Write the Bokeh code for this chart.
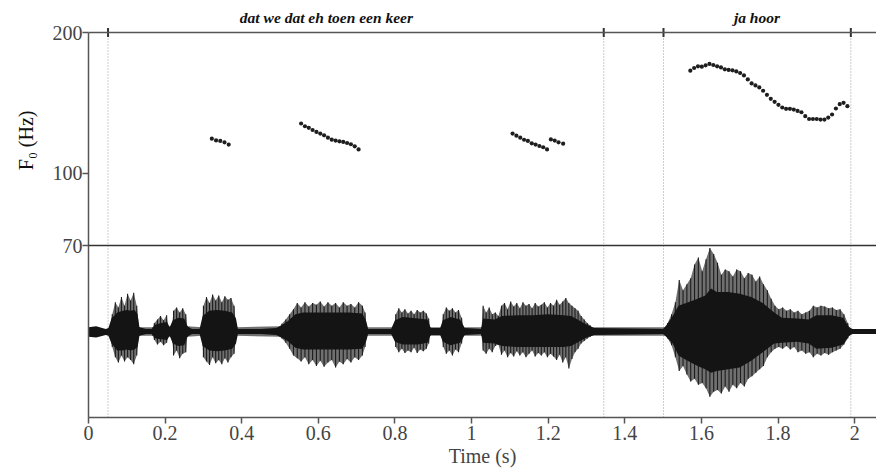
import math
from bokeh.plotting import figure
from bokeh.models import (Range1d, FixedTicker, CustomJSTickFormatter, LinearScale,
                          Span, Title)
from bokeh.core.properties import value
from bokeh.embed import file_html
from bokeh.resources import INLINE

# ---------------- data ----------------
# F0 (pitch) track, seconds / Hz
pitch_t = [0.322, 0.333, 0.344, 0.355, 0.366,
           0.555, 0.565, 0.575, 0.585, 0.595, 0.605, 0.615, 0.625, 0.635, 0.645,
           0.655, 0.665, 0.675, 0.685, 0.695, 0.705,
           1.107, 1.117, 1.127, 1.137, 1.147, 1.157, 1.167, 1.177, 1.187, 1.197,
           1.207, 1.217, 1.227, 1.239,
           1.571, 1.581, 1.591, 1.601, 1.611, 1.621, 1.631, 1.641, 1.651, 1.661,
           1.671, 1.681, 1.691, 1.701, 1.711, 1.721, 1.731, 1.741, 1.751, 1.761,
           1.771, 1.781, 1.791, 1.801, 1.811, 1.821, 1.831, 1.841, 1.851, 1.861,
           1.871, 1.881, 1.891, 1.901, 1.911, 1.921, 1.931, 1.941, 1.951, 1.961,
           1.971, 1.981]
pitch_hz = [118.5, 117.5, 117.2, 116.4, 115.1,
            127.7, 126.0, 125.0, 123.7, 122.5, 121.5, 120.5, 119.1, 117.9, 117.4,
            117.0, 116.6, 116.0, 115.3, 114.1, 112.4,
            121.5, 120.3, 119.1, 117.9, 117.2, 115.8, 115.1, 114.3, 113.6, 112.4,
            118.1, 117.4, 116.4, 115.6,
            165.7, 167.9, 169.3, 169.0, 170.1, 171.3, 170.4, 169.3, 168.4, 166.8,
            166.3, 166.0, 165.1, 163.8, 161.9, 158.7, 155.6, 154.1, 152.6, 150.1,
            147.1, 144.2, 142.1, 140.0, 138.2, 137.3, 137.3, 136.8, 135.9, 135.0,
            132.4, 130.6, 130.6, 130.6, 130.2, 130.2, 131.5, 133.5, 137.5, 140.5,
            141.4, 139.1]

# waveform: dense core envelope (relative amplitude)
wave_t = [0.000, 0.020, 0.045, 0.052, 0.060, 0.075, 0.090, 0.100, 0.110, 0.120,
          0.128, 0.133, 0.150, 0.165, 0.175, 0.190, 0.205, 0.212, 0.220, 0.235,
          0.250, 0.258, 0.270, 0.290, 0.298, 0.315, 0.335, 0.355, 0.375, 0.385,
          0.390, 0.450, 0.490, 0.500, 0.520, 0.540, 0.560, 0.600, 0.640, 0.680,
          0.715, 0.725, 0.730, 0.790, 0.800, 0.820, 0.860, 0.885, 0.893, 0.918,
          0.925, 0.945, 0.970, 0.982, 1.025, 1.030, 1.060, 1.080, 1.120, 1.160,
          1.200, 1.240, 1.260, 1.280, 1.300, 1.320, 1.500, 1.510, 1.525, 1.540,
          1.560, 1.590, 1.610, 1.625, 1.640, 1.670, 1.700, 1.730, 1.760, 1.790,
          1.810, 1.850, 1.880, 1.900, 1.940, 1.970, 1.985, 1.995, 2.090]
wave_core_hi = [0.05, 0.06, 0.03, 0.04, 0.15, 0.22, 0.24, 0.25, 0.24, 0.25,
                0.20, 0.05, 0.03, 0.03, 0.08, 0.10, 0.11, 0.05, 0.13, 0.16,
                0.15, 0.06, 0.03, 0.03, 0.18, 0.24, 0.25, 0.24, 0.22, 0.15,
                0.03, 0.03, 0.04, 0.06, 0.12, 0.20, 0.22, 0.22, 0.22, 0.22,
                0.21, 0.12, 0.03, 0.03, 0.13, 0.17, 0.15, 0.14, 0.04, 0.04,
                0.13, 0.17, 0.14, 0.04, 0.03, 0.15, 0.14, 0.18, 0.19, 0.19,
                0.20, 0.19, 0.18, 0.13, 0.08, 0.04, 0.03, 0.08, 0.18, 0.30,
                0.33, 0.38, 0.42, 0.50, 0.46, 0.46, 0.44, 0.40, 0.33, 0.22,
                0.16, 0.15, 0.14, 0.19, 0.19, 0.16, 0.05, 0.03, 0.03]
wave_core_lo = [-0.06, -0.07, -0.04, -0.05, -0.14, -0.22, -0.22, -0.21, -0.22, -0.21,
                -0.18, -0.05, -0.03, -0.03, -0.08, -0.09, -0.10, -0.05, -0.14, -0.17,
                -0.16, -0.06, -0.03, -0.03, -0.17, -0.22, -0.23, -0.22, -0.20, -0.14,
                -0.03, -0.03, -0.04, -0.06, -0.11, -0.19, -0.21, -0.21, -0.21, -0.21,
                -0.20, -0.11, -0.03, -0.03, -0.12, -0.15, -0.15, -0.13, -0.04, -0.04,
                -0.12, -0.16, -0.13, -0.04, -0.03, -0.13, -0.14, -0.17, -0.18, -0.18,
                -0.18, -0.18, -0.17, -0.12, -0.07, -0.04, -0.03, -0.07, -0.14, -0.28,
                -0.33, -0.40, -0.44, -0.48, -0.46, -0.44, -0.42, -0.34, -0.24, -0.14,
                -0.13, -0.12, -0.14, -0.20, -0.19, -0.15, -0.05, -0.03, -0.03]

# waveform: individual peak excursions (spikes), with near-silent points between bursts
spike_t = [0.056, 0.062, 0.070, 0.078, 0.086, 0.094, 0.102, 0.110, 0.118, 0.126, 0.132,
           0.168, 0.172, 0.180, 0.188, 0.196, 0.204, 0.208,
           0.218, 0.222, 0.230, 0.238, 0.246, 0.254, 0.258,
           0.296, 0.300, 0.308, 0.316, 0.324, 0.332, 0.340, 0.348, 0.356, 0.364,
           0.372, 0.380, 0.386,
           0.500, 0.505, 0.515, 0.525, 0.535, 0.545, 0.555, 0.565, 0.575, 0.585,
           0.595, 0.605, 0.615, 0.625, 0.635, 0.645, 0.655, 0.665, 0.675, 0.685,
           0.695, 0.705, 0.715, 0.722, 0.726,
           0.798, 0.802, 0.810, 0.818, 0.826, 0.834, 0.842, 0.850, 0.858, 0.866,
           0.874, 0.882, 0.888, 0.892,
           0.922, 0.926, 0.934, 0.942, 0.950, 0.958, 0.966, 0.974, 0.979,
           1.026, 1.030, 1.038, 1.046, 1.054, 1.062, 1.070, 1.078, 1.086, 1.094,
           1.102, 1.110, 1.118, 1.126, 1.134, 1.142, 1.150, 1.158, 1.166, 1.174,
           1.182, 1.190, 1.198, 1.206, 1.214, 1.222, 1.230, 1.238, 1.246, 1.254,
           1.262, 1.270, 1.278, 1.286, 1.294, 1.302, 1.310, 1.314,
           1.508, 1.512, 1.522, 1.532, 1.542, 1.552, 1.562, 1.572, 1.582, 1.592,
           1.602, 1.612, 1.622, 1.632, 1.642, 1.652, 1.662, 1.672, 1.682, 1.692,
           1.702, 1.712, 1.722, 1.732, 1.742, 1.752, 1.762, 1.772, 1.782, 1.792,
           1.802, 1.812, 1.822, 1.832, 1.842, 1.852, 1.862, 1.872, 1.882, 1.892,
           1.902, 1.912, 1.922, 1.932, 1.942, 1.952, 1.962, 1.972, 1.982, 1.986]
spike_hi = [0.05, 0.20, 0.34, 0.28, 0.40, 0.30, 0.44, 0.36, 0.45, 0.30, 0.05,
            0.05, 0.10, 0.14, 0.18, 0.13, 0.19, 0.06,
            0.06, 0.24, 0.28, 0.22, 0.27, 0.20, 0.06,
            0.05, 0.30, 0.40, 0.33, 0.43, 0.36, 0.42, 0.34, 0.41, 0.37,
            0.39, 0.30, 0.05,
            0.06, 0.09, 0.14, 0.20, 0.26, 0.33, 0.28, 0.34, 0.29, 0.33,
            0.31, 0.35, 0.29, 0.34, 0.30, 0.33, 0.28, 0.34, 0.30, 0.32,
            0.28, 0.34, 0.30, 0.22, 0.05,
            0.05, 0.20, 0.27, 0.22, 0.26, 0.21, 0.24, 0.20, 0.25, 0.22,
            0.24, 0.21, 0.15, 0.05,
            0.05, 0.20, 0.28, 0.24, 0.27, 0.22, 0.25, 0.16, 0.05,
            0.05, 0.30, 0.22, 0.28, 0.20, 0.22, 0.18, 0.30, 0.33, 0.26,
            0.35, 0.29, 0.33, 0.27, 0.34, 0.30, 0.32, 0.27, 0.33, 0.29,
            0.31, 0.34, 0.28, 0.33, 0.30, 0.37, 0.31, 0.35, 0.39, 0.33,
            0.30, 0.27, 0.24, 0.18, 0.14, 0.10, 0.07, 0.05,
            0.05, 0.10, 0.20, 0.34, 0.60, 0.48, 0.55, 0.62, 0.78, 0.86,
            0.70, 0.84, 0.97, 0.90, 0.80, 0.66, 0.72, 0.70, 0.64, 0.72,
            0.70, 0.62, 0.68, 0.66, 0.58, 0.64, 0.55, 0.48, 0.38, 0.30,
            0.26, 0.28, 0.24, 0.26, 0.22, 0.24, 0.20, 0.22, 0.24, 0.30,
            0.28, 0.30, 0.29, 0.27, 0.28, 0.25, 0.26, 0.20, 0.10, 0.05]
spike_lo = [-0.06, -0.18, -0.30, -0.36, -0.28, -0.35, -0.30, -0.33, -0.38, -0.28, -0.05,
            -0.05, -0.10, -0.15, -0.12, -0.16, -0.13, -0.06,
            -0.06, -0.28, -0.22, -0.31, -0.26, -0.24, -0.06,
            -0.05, -0.30, -0.35, -0.39, -0.30, -0.37, -0.33, -0.38, -0.31, -0.36,
            -0.30, -0.26, -0.05,
            -0.06, -0.08, -0.13, -0.20, -0.28, -0.31, -0.35, -0.30, -0.38, -0.33,
            -0.40, -0.34, -0.41, -0.36, -0.33, -0.42, -0.35, -0.38, -0.32, -0.36,
            -0.30, -0.33, -0.28, -0.18, -0.05,
            -0.05, -0.18, -0.24, -0.20, -0.25, -0.22, -0.24, -0.19, -0.25, -0.21,
            -0.23, -0.20, -0.14, -0.05,
            -0.05, -0.18, -0.26, -0.22, -0.28, -0.21, -0.24, -0.14, -0.05,
            -0.05, -0.22, -0.26, -0.20, -0.24, -0.17, -0.15, -0.27, -0.22, -0.30,
            -0.25, -0.29, -0.23, -0.28, -0.24, -0.30, -0.26, -0.22, -0.29, -0.25,
            -0.28, -0.24, -0.30, -0.26, -0.29, -0.33, -0.27, -0.36, -0.30, -0.43,
            -0.32, -0.24, -0.20, -0.14, -0.11, -0.08, -0.06, -0.05,
            -0.05, -0.08, -0.16, -0.30, -0.46, -0.40, -0.50, -0.58, -0.55, -0.62,
            -0.60, -0.66, -0.76, -0.70, -0.68, -0.72, -0.64, -0.70, -0.62, -0.66,
            -0.60, -0.64, -0.55, -0.52, -0.48, -0.44, -0.40, -0.30, -0.24, -0.20,
            -0.18, -0.20, -0.17, -0.21, -0.18, -0.24, -0.22, -0.26, -0.24, -0.30,
            -0.26, -0.28, -0.25, -0.27, -0.24, -0.22, -0.20, -0.15, -0.08, -0.05]

boundaries = [0.051, 1.345, 1.501, 1.99]
phrases = ["dat we dat eh toen een keer", "ja hoor"]
phrase_x = [0.621, 1.745]

time_ticks = [0, 0.2, 0.4, 0.6, 0.8, 1, 1.2, 1.4, 1.6, 1.8, 2]
f0_ticks = [70, 100, 200]
F0_MIN, F0_MAX = 70, 200

# ---------------- layout / styling ----------------
FONT = "Liberation Serif"
AX = "#555555"
TOP_PX, PITCH_PX, WAVE_PX = 32, 213, 172     # title zone, pitch panel, waveform panel
px_per_ln = PITCH_PX / math.log(F0_MAX / F0_MIN)
y_lo = F0_MIN * math.exp(-WAVE_PX / px_per_ln)       # log value at frame bottom
y_hi = F0_MAX * math.exp(TOP_PX / px_per_ln)         # log value at frame top
title_y = F0_MAX * math.exp(15 / px_per_ln)
wave_top = 1 + 2 * (PITCH_PX + TOP_PX) / WAVE_PX

p = figure(width=876, height=TOP_PX + PITCH_PX + WAVE_PX + 52,
           x_range=Range1d(0, 2.057), y_range=Range1d(y_lo, y_hi),
           y_axis_type="log", output_backend="svg", toolbar_location=None,
           min_border_left=84, min_border_right=0, min_border_top=0,
           min_border_bottom=52)
p.extra_y_ranges = {"wave": Range1d(-1, wave_top)}
p.extra_y_scales = {"wave": LinearScale()}
p.grid.visible = False
p.outline_line_color = None
p.background_fill_color = "white"
p.border_fill_color = "white"

ya = p.yaxis[0]
ya.bounds = (y_lo, F0_MAX)
ya.ticker = FixedTicker(ticks=f0_ticks, minor_ticks=[])
ya.formatter = CustomJSTickFormatter(code="return tick.toString()")
ya.major_label_text_font = FONT
ya.major_label_text_font_size = "20px"
ya.major_label_standoff = 0
ya.major_tick_out = 6
ya.major_tick_in = 0
ya.axis_line_color = AX
ya.axis_line_width = 1.5
ya.major_tick_line_color = AX
ya.major_tick_line_width = 1.5

p.add_layout(Title(text="F\u2080 (Hz)", align="right", offset=TOP_PX + 78,
                   text_font=FONT, text_font_size="20px",
                   text_font_style="normal", text_color="#111111",
                   standoff=25), "left")

xa = p.xaxis[0]
xa.ticker = FixedTicker(ticks=time_ticks, minor_ticks=[])
xa.formatter = CustomJSTickFormatter(code="return tick.toString()")
xa.axis_label = "Time (s)"
xa.axis_label_text_font = FONT
xa.axis_label_text_font_style = "normal"
xa.axis_label_text_font_size = "20px"
xa.axis_label_standoff = 2
xa.major_label_text_font = FONT
xa.major_label_text_font_size = "20px"
xa.major_label_standoff = 2
xa.major_tick_out = 6
xa.major_tick_in = 0
xa.axis_line_color = AX
xa.axis_line_width = 1.5
xa.major_tick_line_color = AX
xa.major_tick_line_width = 1.5

# frame lines: top of pitch panel (200 Hz) and divider (70 Hz)
p.add_layout(Span(location=F0_MAX, dimension="width", line_color=AX, line_width=1.5))
p.add_layout(Span(location=F0_MIN, dimension="width", line_color="#333333",
                  line_width=1.5))

# interval boundaries: dotted lines plus small marks above the 200 Hz line
nb = len(boundaries)
p.segment(x0=boundaries, y0=[y_lo] * nb, x1=boundaries, y1=[F0_MAX] * nb,
          line_color="#9a9a9a", line_width=1, line_dash="1 2")
p.scatter(x=boundaries, y=[F0_MAX] * nb, marker="dash", angle=math.pi / 2,
          size=9, line_color="#333333", line_width=2)

p.scatter(pitch_t, pitch_hz, size=4.2, color="#1e1e1e", line_color=None)

p.varea(x=spike_t, y1=spike_lo, y2=spike_hi, color="#707070", y_range_name="wave")
p.segment(x0=spike_t, y0=spike_lo, x1=spike_t, y1=spike_hi,
          line_color="#1c1c1c", line_width=1.1, y_range_name="wave")
p.varea(x=wave_t, y1=wave_core_lo, y2=wave_core_hi, color="#141414",
        y_range_name="wave")

p.text(x=phrase_x, y=[title_y] * len(phrases), text=phrases, text_font=value(FONT),
       text_font_style="bold italic", text_font_size="15.5px",
       text_align="center", text_baseline="middle", text_color="#111111")

open("out.html", "w").write(file_html(p, INLINE))
